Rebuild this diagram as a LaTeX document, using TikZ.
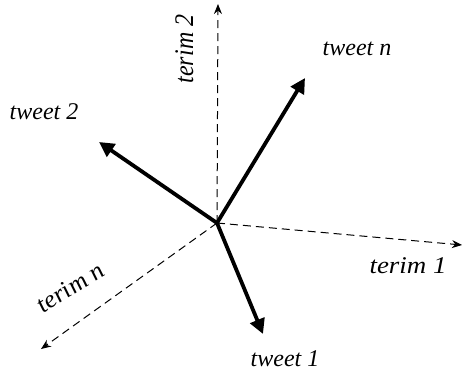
\documentclass[tikz,border=0pt]{standalone}
\usepackage{fontspec}
\setmainfont{Liberation Serif}
\usetikzlibrary{arrows.meta}
\begin{document}
\begin{tikzpicture}[x=1pt,y=-1pt,
  axis/.style={dashed,dash pattern=on 8pt off 5pt,line width=1pt,-{Stealth[length=10pt,width=8pt]}},
  vec/.style={line width=3.8pt,-{Triangle[length=15pt,width=15pt]}},
  lbl/.style={font=\fontsize{24}{27}\selectfont\itshape,inner sep=0pt,anchor=base},
  axlbl/.style={lbl,xscale=1.12}]
\useasboundingbox (0,0) rectangle (462,372);
\coordinate (o) at (217,223);
% axes
\coordinate (t1) at (462,245);
\coordinate (t2) at (218,4);
\coordinate (tn) at (41,349);
\draw[axis] (o) -- (t1);
\draw[axis] (o) -- (t2);
\draw[axis] (o) -- (tn);
% tweet vectors
\coordinate (w1) at (263,334);
\coordinate (w2) at (99,142);
\coordinate (wn) at (305,78);
\draw[vec] (o) -- (w1);
\draw[vec] (o) -- (w2);
\draw[vec] (o) -- (wn);
% labels
\node[axlbl] (l1) at (408,273) {terim 1};
\node[axlbl,rotate=90] (l2) at (193,49) {terim 2};
\node[axlbl,rotate=34] (ln) at (75,294) {terim n};
\node[lbl] (k1) at (285,366) {tweet 1};
\node[lbl] (k2) at (44,119) {tweet 2};
\node[lbl] (kn) at (357,55) {tweet n};
\end{tikzpicture}
\end{document}
